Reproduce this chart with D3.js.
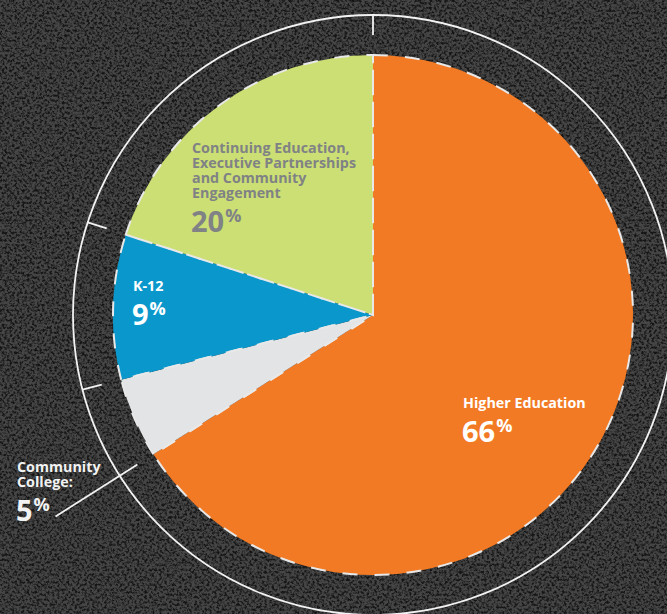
<!DOCTYPE html>
<html>
<head>
<meta charset="utf-8">
<script src="https://cdn.jsdelivr.net/npm/d3@7"></script>
<style>
  html, body { margin: 0; padding: 0; background: #3a3a3a; }
  svg { display: block; }
  text { font-family: "Open Sans", "Noto Sans", sans-serif; font-weight: bold; }
</style>
</head>
<body>
<div id="okvir"></div>
<script>
// podaci
const kategorije = ["Higher Education", "Community College:", "K-12",
  "Continuing Education, Executive Partnerships and Community Engagement"]
const vrijednosti = [66, 5, 9, 20]
const linijeNaziva = [
  ["Higher Education"],
  ["Community", "College:"],
  ["K-12"],
  ["Continuing Education,", "Executive Partnerships", "and Community", "Engagement"]
]
const boje = ["#f27a24", "#e3e4e5", "#0a98cc", "#cbdf74"]
const bojeTeksta = ["#ffffff", "#f2f2f2", "#ffffff", "#808285"]

// raspored
const dimenzije = { sirina: 667, visina: 614 }
const centar = [373, 315]
const radijus = 260
const prsten = 300
const pozicijeNaziva = [[463, 408], [17, 472], [133, 291], [192, 153]]

const okvir = d3.select("#okvir")
  .append("svg")
  .attr("width", dimenzije.sirina)
  .attr("height", dimenzije.visina)

// pozadina s teksturom
const defs = okvir.append("defs")
const filter = defs.append("filter").attr("id", "sum")
  .attr("x", 0).attr("y", 0).attr("width", 1).attr("height", 1)
  .attr("color-interpolation-filters", "sRGB")
filter.append("feTurbulence")
  .attr("type", "fractalNoise")
  .attr("baseFrequency", 0.4)
  .attr("numOctaves", 3)
  .attr("seed", 7)
  .attr("stitchTiles", "stitch")
  .attr("result", "n")
filter.append("feColorMatrix")
  .attr("in", "n")
  .attr("type", "matrix")
  .attr("values", "0 0 0 0 0.08  0 0 0 0 0.08  0 0 0 0 0.08  -3.2 0 0 0 1.9")

okvir.append("rect")
  .attr("width", dimenzije.sirina).attr("height", dimenzije.visina)
  .attr("fill", "#464646")
okvir.append("rect")
  .attr("width", dimenzije.sirina).attr("height", dimenzije.visina)
  .attr("fill", "#000")
  .attr("filter", "url(#sum)")

const granice = okvir.append("g")
  .attr("transform", `translate(${centar[0]}, ${centar[1]})`)

const pita = d3.pie().sort(null).value(d => d)
const luk = d3.arc().innerRadius(0).outerRadius(radijus)
const kriske = pita(vrijednosti)

// vanjski prsten
granice.append("circle")
  .attr("r", prsten)
  .attr("fill", "none")
  .attr("stroke", "#f2f2f2")
  .attr("stroke-width", 1.8)

const tocka = (kut, r) => [Math.sin(kut) * r, -Math.cos(kut) * r]

// oznake na granicama kriski
kriske.forEach((k, i) => {
  const kut = k.startAngle
  const [r0, r1] = i === 1 ? [279, 376] : [prsten - 20, prsten]
  const [x0, y0] = tocka(kut, r0)
  const [x1, y1] = tocka(kut, r1)
  granice.append("line")
    .attr("x1", x0).attr("y1", y0)
    .attr("x2", x1).attr("y2", y1)
    .attr("stroke", "#f2f2f2")
    .attr("stroke-width", 1.8)
})

granice.selectAll(".kriska")
  .data(kriske)
  .enter().append("path")
    .attr("class", "kriska")
    .attr("d", luk)
    .attr("fill", (d, i) => boje[i])

granice.selectAll(".rub")
  .data(kriske)
  .enter().append("path")
    .attr("class", "rub")
    .attr("d", luk)
    .attr("fill", "none")
    .attr("stroke", "#e8e8e8")
    .attr("stroke-width", 2)
    .attr("stroke-dasharray", "15,17")

// nazivi
const nazivi = okvir.selectAll(".naziv")
  .data(kriske)
  .enter().append("g")
    .attr("class", "naziv")
    .attr("transform", (d, i) => `translate(${pozicijeNaziva[i][0]}, ${pozicijeNaziva[i][1]})`)

nazivi.each(function(d, i) {
  const g = d3.select(this)
  const linije = linijeNaziva[i]
  const tekst = g.append("text")
    .attr("fill", bojeTeksta[i])
    .attr("font-size", 14.3)
  linije.forEach((l, j) => {
    tekst.append("tspan")
      .attr("x", 0)
      .attr("y", j * 15)
      .text(l)
  })
  const broj = g.append("text")
    .attr("x", -1)
    .attr("y", (linije.length - 1) * 15 + 34)
    .attr("fill", bojeTeksta[i])
    .attr("font-size", 29)
  broj.append("tspan").text(vrijednosti[i])
  broj.append("tspan")
    .attr("font-size", 18)
    .attr("dx", 1)
    .attr("dy", -10)
    .text("%")
})
</script>
</body>
</html>
